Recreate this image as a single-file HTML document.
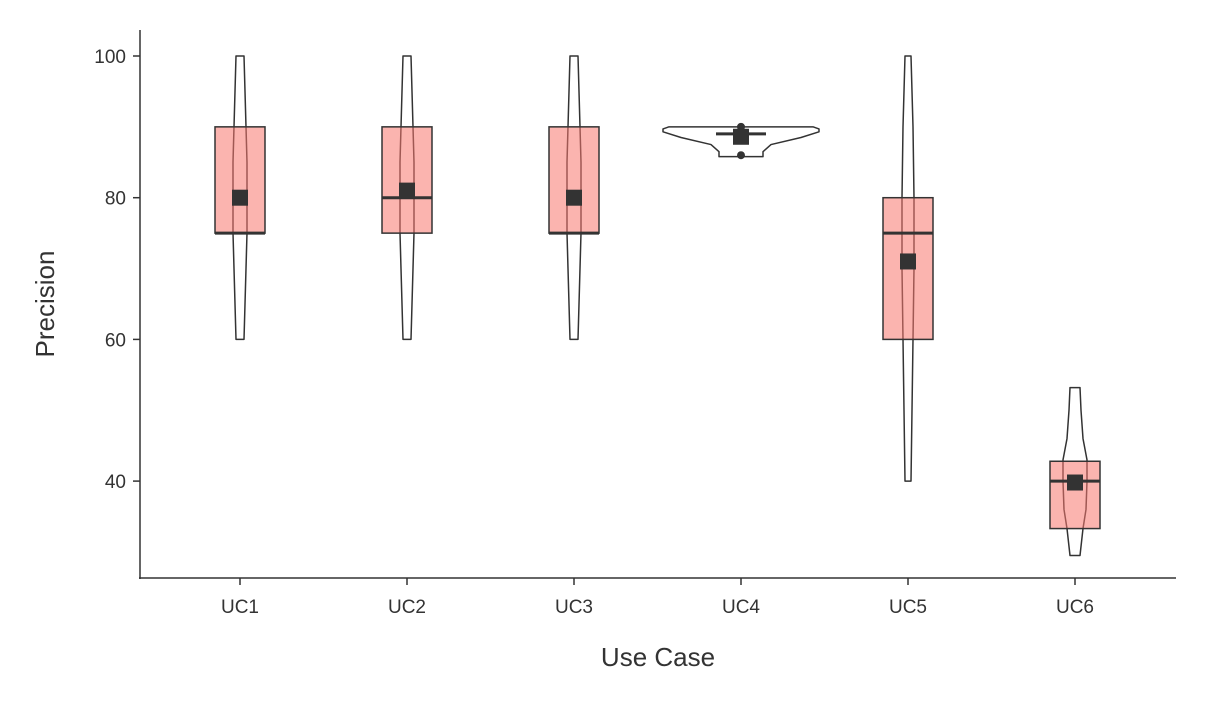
<!DOCTYPE html>
<html><head><meta charset="utf-8"><style>
body{margin:0;background:#fff}
svg text{font-family:"Liberation Sans",sans-serif;fill:#333}
</style></head><body>
<svg id="c" width="1206" height="700" xmlns="http://www.w3.org/2000/svg">
<g id="plot"></g>
<line x1="140" y1="30" x2="140" y2="579" stroke="#333" stroke-width="1.5"/>
<line x1="139" y1="578" x2="1176" y2="578" stroke="#333" stroke-width="1.5"/>
<g id="axes"></g>
<text x="658" y="666" font-size="26" text-anchor="middle">Use Case</text>
<text x="0" y="0" font-size="26" text-anchor="middle" transform="translate(54,304) rotate(-90)">Precision</text>
</svg>
<script>
const categories=["UC1","UC2","UC3","UC4","UC5","UC6"];
const q1=[75,75,75,89,60,33.3];
const medians=[75,80,75,89,75,40];
const q3=[90,90,90,89,80,42.8];
const means=[80,81,80,88.6,71,39.8];
const outliers=[[],[],[],[90,86],[],[]];
// violin profiles: value levels and density (half-width in relative units)
const violinLevels=[
 [60,65,70,75,80,85,90,95,100],
 [60,65,70,75,80,85,90,95,100],
 [60,65,70,75,80,85,90,95,100],
 [85.8,86.5,87.5,88.5,89.3,89.7,90],
 [40,50,60,70,75,80,90,100],
 [29.5,33.3,36,40,43,46,50,53.2]
];
const violinDensity=[
 [4,5,6,7,7,7,6,5,4],
 [4,5,6,7,7,7,6,5,4],
 [4,5,6,7,7,7,6,5,4],
 [22,22,30,60,78,78,72],
 [3,4,5,6,6,6,5,3],
 [5,8,11,12,12,8,6,5]
];
const yTicks=[40,60,80,100];
const y=v=>56+(100-v)*7.085;
const x=i=>240+i*167;
const NS="http://www.w3.org/2000/svg";
const plot=document.getElementById('plot'),axes=document.getElementById('axes');
function mk(tag,attrs,parent){const e=document.createElementNS(NS,tag);for(const k in attrs)e.setAttribute(k,attrs[k]);parent.appendChild(e);return e;}
yTicks.forEach(t=>{
 const l=mk('line',{x1:133,x2:140,y1:y(t),y2:y(t),stroke:'#333','stroke-width':1.5},axes);
 
 
 const tx=mk('text',{x:126,y:y(t)+7,'font-size':19,'text-anchor':'end'},axes);
 tx.textContent=t;
 
 
});
categories.forEach((c,i)=>{
 const cx=x(i);
 const l=mk('line',{x1:cx,x2:cx,y1:578,y2:585,stroke:'#333','stroke-width':1.5},axes);
 
 
 const tx=mk('text',{x:cx,y:613,'font-size':19,'text-anchor':'middle'},axes);
 tx.textContent=c;
 
 
 // violin
 const lv=violinLevels[i],dn=violinDensity[i];
 let pts=[];
 for(let k=0;k<lv.length;k++)pts.push((cx+dn[k])+','+y(lv[k]));
 for(let k=lv.length-1;k>=0;k--)pts.push((cx-dn[k])+','+y(lv[k]));
 const vp=mk('polygon',{points:pts.join(' '),fill:'#fff',stroke:'#333','stroke-width':1.5,'stroke-linejoin':'round'},plot);
 
 
 // box
 if(q3[i]>q1[i]){
  const b=mk('rect',{x:cx-25,y:y(q3[i]),width:50,height:y(q1[i])-y(q3[i]),fill:'rgba(248,118,109,0.55)',stroke:'#333','stroke-width':1.5},plot);
  
  
 }
 const m=mk('line',{x1:cx-25,x2:cx+25,y1:y(medians[i]),y2:y(medians[i]),stroke:'#333','stroke-width':3},plot);
 
 
 outliers[i].forEach(o=>{
  const p=mk('circle',{cx:cx,cy:y(o),r:4,fill:'#333'},plot);
  
  
 });
 const mn=mk('rect',{x:cx-8,y:y(means[i])-8,width:16,height:16,fill:'#333'},plot);
 
 
});
</script>
</body></html>
